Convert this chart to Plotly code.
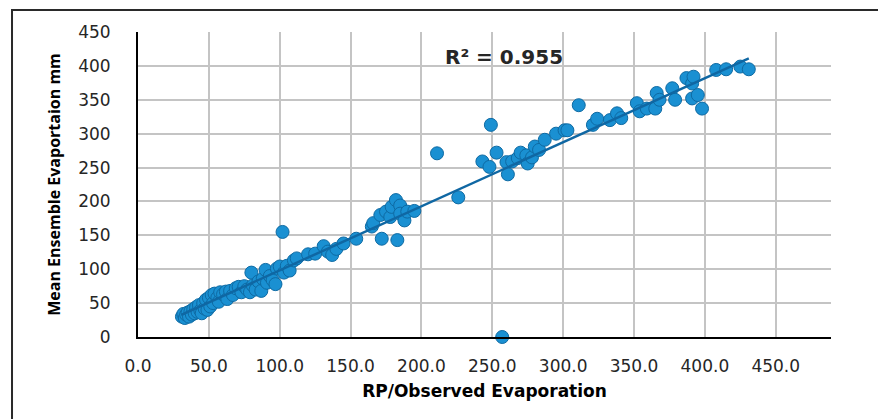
import numpy as np
import plotly.graph_objects as go

# RP / observed evaporation (x) vs mean ensemble evaporation (y), mm
observed = [
    31, 32, 33, 34, 35, 36, 37, 38, 39, 40, 41, 42, 43, 44, 45, 46, 47, 48, 49, 50,
    51, 52, 53, 54, 56, 57, 58, 60, 62, 63, 65, 67, 69, 71, 73, 75, 77, 79, 80, 81,
    83, 85, 87, 88, 90, 91, 93, 95, 97, 98, 100, 102, 103, 105, 107, 110,
    112, 120, 125, 131, 134, 137, 140, 145, 154, 165, 166, 172, 183, 171, 175, 178,
    179, 182, 185, 185, 188, 190, 195,
    211, 226, 243, 248, 249, 253, 257, 260, 261, 264, 268, 270, 274, 275, 278, 280,
    283, 287, 295, 301,
    303, 311, 321, 324, 333, 338, 341, 352, 354, 359, 365, 366, 368, 377, 379, 387,
    391, 392, 391, 395, 398, 408, 415, 425, 431,
]
ensemble = [
    30, 34, 28, 33, 36, 30, 38, 33, 41, 35, 44, 37, 47, 39, 35, 50, 42, 55, 40, 58,
    45, 62, 50, 64, 58, 52, 66, 63, 67, 56, 68, 62, 72, 74, 66, 75, 70, 66, 95, 76,
    70, 82, 68, 86, 99, 80, 90, 84, 78, 101, 104, 155, 95, 105, 98, 113,
    116, 122, 123, 134, 126, 121, 130, 138, 145, 163, 168, 145, 143, 180, 185, 177,
    192, 202, 194, 182, 172, 185, 186,
    271, 206, 259, 251, 313, 272, 0, 258, 240, 259, 264, 272, 268, 256, 265, 281,
    276, 291, 300, 305,
    305, 342, 313, 322, 320, 330, 323, 345, 333, 337, 337, 360, 350, 367, 350, 382,
    374, 384, 352, 357, 337, 394, 395, 399, 395,
]

x_ticks = [0, 50, 100, 150, 200, 250, 300, 350, 400, 450]
y_ticks = [0, 50, 100, 150, 200, 250, 300, 350, 400, 450]

x_arr = np.array(observed, dtype=float)
y_arr = np.array(ensemble, dtype=float)

# least-squares linear trend through all points
slope, intercept = np.polyfit(x_arr, y_arr, 1)
trend_x = np.array([x_arr.min(), x_arr.max()])
trend_y = slope * trend_x + intercept

POINT_FILL = "#1a90d2"
POINT_EDGE = "#0e6aa3"
TREND = "#0f67a3"

fig = go.Figure()
fig.add_trace(go.Scatter(
    x=x_arr, y=y_arr, mode="markers",
    marker=dict(size=13, color=POINT_FILL, line=dict(color=POINT_EDGE, width=1)),
    showlegend=False, cliponaxis=False,
))
fig.add_trace(go.Scatter(
    x=trend_x, y=trend_y, mode="lines",
    line=dict(color=TREND, width=2.5),
    showlegend=False,
))

fig.update_xaxes(
    range=[0, 489], tickvals=x_ticks, ticktext=[f"{v:.1f}" for v in x_ticks],
    showgrid=True, gridcolor="#c4c4c4", gridwidth=2,
    showline=True, linecolor="#000000", linewidth=2, zeroline=False,
    ticks="", ticklabelstandoff=13,
    tickfont=dict(family="DejaVu Sans", size=17, color="#262626"),
    title=dict(text="<b>RP/Observed Evaporation</b>", standoff=10,
               font=dict(family="DejaVu Sans", size=17, color="#000000")),
)
fig.update_yaxes(
    range=[0, 450], tickvals=y_ticks,
    showgrid=True, gridcolor="#c4c4c4", gridwidth=2,
    showline=True, linecolor="#000000", linewidth=2, zeroline=False,
    ticks="", ticklabelstandoff=22,
    tickfont=dict(family="DejaVu Sans", size=17, color="#262626"),
    title=dict(text="<b>Mean Ensemble Evaportaion mm</b>", standoff=14,
               font=dict(family="Open Sans", size=16, color="#000000")),
)

fig.add_annotation(
    xref="x", yref="y", x=258, y=413, xanchor="center", yanchor="middle",
    text="<b>R² = 0.955</b>", showarrow=False,
    font=dict(family="DejaVu Sans", size=20, color="#262626"),
)

# chart frame
fig.add_shape(
    type="rect", xref="paper", yref="paper",
    x0=-0.1818, x1=1.08, y0=-0.30, y1=1.0721,
    line=dict(color="#2a2a2a", width=2), layer="below",
)

fig.update_layout(
    width=878, height=419,
    margin=dict(l=138, r=47, t=32, b=82),
    paper_bgcolor="#ffffff", plot_bgcolor="#ffffff",
)

fig.write_html("out.html")
